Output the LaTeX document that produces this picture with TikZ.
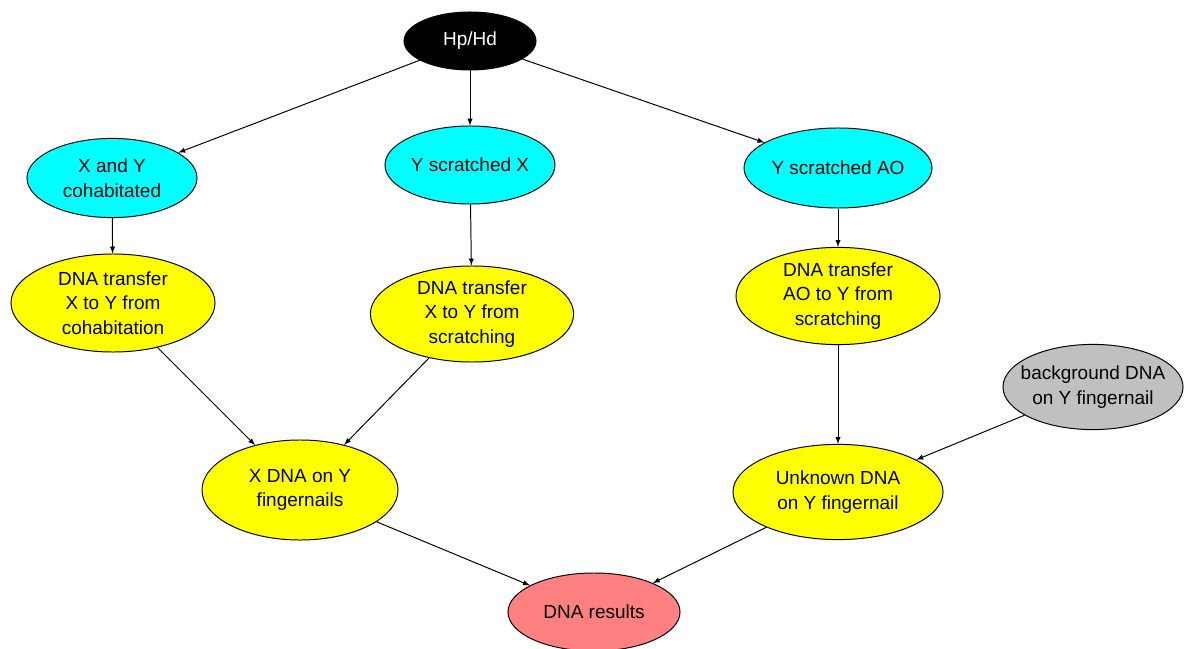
\documentclass[tikz,border=0pt]{standalone}
\usepackage{fontspec}
\setmainfont{Liberation Sans}
\usepackage{tikz}
\usetikzlibrary{shapes.geometric, arrows}
\definecolor{cyan_blue}{RGB}{0,255,255}
\definecolor{bright_yellow}{RGB}{255,255,0}
\definecolor{light_gray}{RGB}{192,192,192}
\definecolor{salmon_red}{RGB}{255,128,128}
\tikzstyle{oval} = [ellipse, draw=black, line width=0.7pt, inner sep=0pt, align=center,
                    font=\fontsize{13.5}{17.5}\selectfont]
\tikzstyle{hypo} = [oval, fill=black, text=white]
\tikzstyle{act} = [oval, fill=cyan_blue]
\tikzstyle{transfer} = [oval, fill=bright_yellow]
\tikzstyle{backgr} = [oval, fill=light_gray, inner xsep=-6.5pt]
\tikzstyle{result} = [oval, fill=salmon_red]
\tikzstyle{arrow} = [line width=0.7pt,-latex, black]

\begin{document}
\begin{tikzpicture}[x=0.025cm, y=-0.025cm]

    \useasboundingbox (0,0) rectangle (1189,649);

    \node[hypo, minimum width=3.3cm, minimum height=1.45cm] (hphd) at (470,41) {Hp/Hd};
    \node[act, minimum width=4.25cm, minimum height=1.98cm] (cohab) at (112,178) {X and Y\\cohabitated};
    \node[act, minimum width=4.25cm, minimum height=1.95cm] (scratchx) at (470,165) {Y scratched X};
    \node[act, minimum width=4.25cm, minimum height=2cm] (scratchao) at (838,168) {Y scratched AO};
    \node[transfer, minimum width=5.1cm, minimum height=2.45cm] (transcohab) at (113,303) {DNA transfer\\X to Y from\\cohabitation};
    \node[transfer, minimum width=5.08cm, minimum height=2.4cm] (transx) at (472,314) {DNA transfer\\X to Y from\\scratching};
    \node[transfer, minimum width=5.1cm, minimum height=2.43cm] (transao) at (838,296) {DNA transfer\\AO to Y from\\scratching};
    \node[backgr, minimum width=4.5cm, minimum height=2.13cm] (bgdna) at (1093,387) {background DNA\\on Y fingernail};
    \node[transfer, minimum width=4.9cm, minimum height=2.5cm] (xdna) at (300,490) {X DNA on Y\\fingernails};
    \node[transfer, minimum width=5.25cm, minimum height=2.38cm] (unknown) at (838,492) {Unknown DNA\\on Y fingernail};
    \node[result, minimum width=4.3cm, minimum height=1.95cm] (results) at (594,612) {DNA results};

    \draw[arrow] (hphd) to (cohab);
    \draw[arrow] (hphd) to (scratchx);
    \draw[arrow] (hphd) to (scratchao);
    \draw[arrow] (cohab) to (transcohab);
    \draw[arrow] (scratchx) to (transx);
    \draw[arrow] (scratchao) to (transao);
    \draw[arrow] (transcohab) to (xdna);
    \draw[arrow] (transx) to (xdna);
    \draw[arrow] (transao) to (unknown);
    \draw[arrow] (bgdna) to (unknown);
    \draw[arrow] (xdna) to (results);
    \draw[arrow] (unknown) to (results);

\end{tikzpicture}
\end{document}
